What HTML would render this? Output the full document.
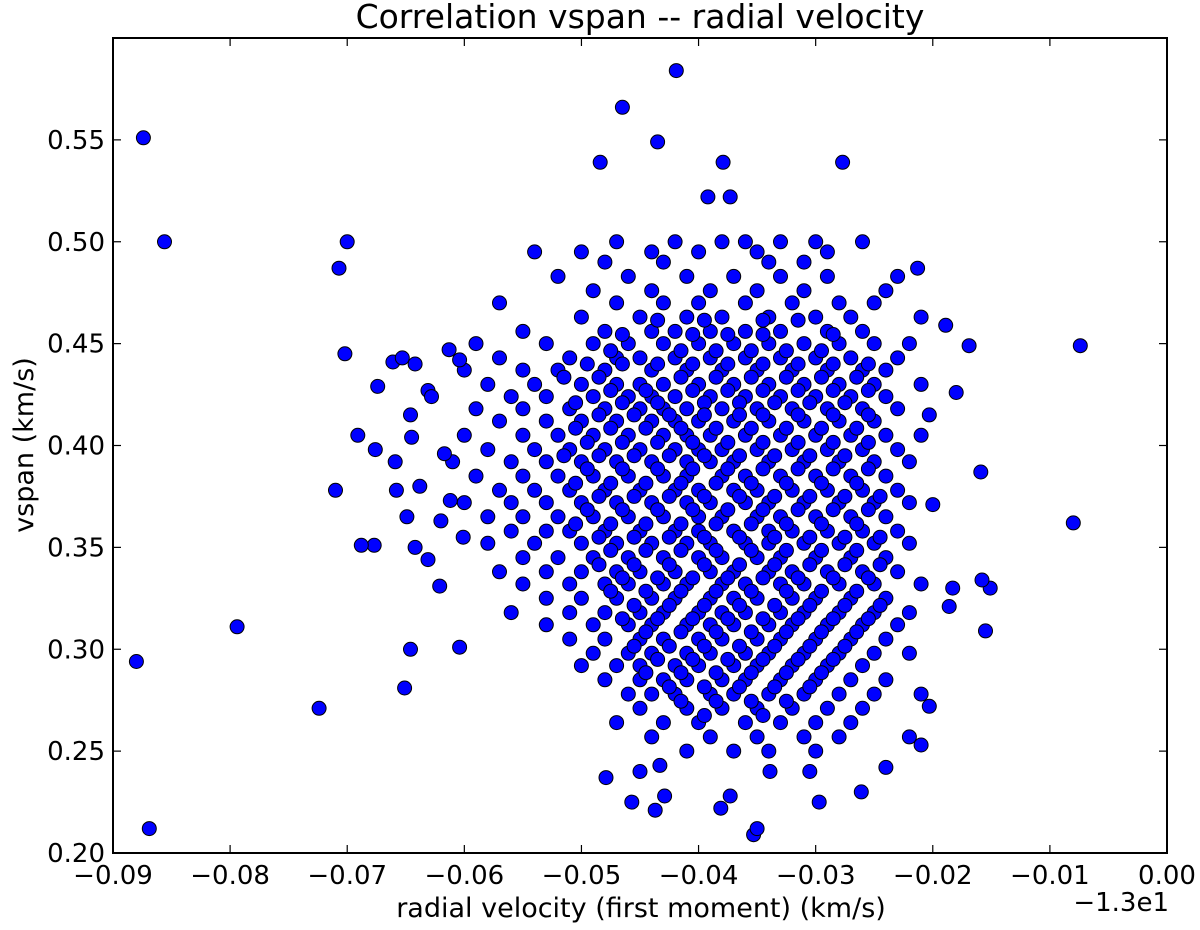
<!DOCTYPE html>
<html><head><meta charset="utf-8"><style>
html,body{margin:0;padding:0;background:#fff;}
svg{display:block;font-family:"DejaVu Sans","Liberation Sans",sans-serif;}
</style></head><body>
<svg id="chart" width="1200" height="930" viewBox="0 0 1200 930" xmlns="http://www.w3.org/2000/svg">
<text x="640" y="28" font-size="33" text-anchor="middle">Correlation vspan -- radial velocity</text>
<g id="points"></g>
<g id="axes"></g>
<text x="641" y="917" font-size="27" text-anchor="middle">radial velocity (first moment) (km/s)</text>
<text x="1169" y="911" font-size="26" text-anchor="end">−1.3e1</text>
<text x="0" y="0" font-size="27" text-anchor="middle" transform="translate(33,445) rotate(-90)">vspan (km/s)</text>
</svg>
<script>
const xTicks = [-0.09,-0.08,-0.07,-0.06,-0.05,-0.04,-0.03,-0.02,-0.01,0.00];
const xTickLabels = ["−0.09","−0.08","−0.07","−0.06","−0.05","−0.04","−0.03","−0.02","−0.01","0.00"];
const yTicks = [0.20,0.25,0.30,0.35,0.40,0.45,0.50,0.55];
const yTickLabels = ["0.20","0.25","0.30","0.35","0.40","0.45","0.50","0.55"];
const outlierX = [-0.0874,-0.0856,-0.0880,-0.0869,-0.0794,-0.0724,-0.0710,-0.0707,-0.0700,-0.0702,-0.0691,-0.0677,-0.0688,-0.0674,-0.0676,-0.0661,-0.0653,-0.0659,-0.0658,-0.0651,-0.0649,-0.0646,-0.0646,-0.0645,-0.0642,-0.0642,-0.0638,-0.0631,-0.0631,-0.0628,-0.0621,-0.0620,-0.0617,-0.0613,-0.0612,-0.0604,-0.0601,-0.0604,
-0.0074,-0.0080,-0.0155,-0.0151,-0.0158,-0.0159,-0.0169,-0.0189,-0.0180,-0.0183,-0.0186,-0.0200,-0.0203,-0.0203,-0.0210,-0.0213,
-0.0419,-0.0465,-0.0435,-0.0484,-0.0379,-0.0277,-0.0392,-0.0373,
-0.0353,-0.0350,-0.0381,-0.0437,-0.0479,-0.0457,-0.0373,-0.0339,-0.0297,-0.0261,-0.0240,-0.0305,-0.0450,-0.0433,-0.0429];
const outlierY = [0.551,0.500,0.294,0.212,0.311,0.271,0.378,0.487,0.500,0.445,0.405,0.351,0.351,0.429,0.398,0.441,0.443,0.392,0.378,0.281,0.365,0.300,0.415,0.404,0.440,0.350,0.380,0.427,0.344,0.424,0.331,0.363,0.396,0.447,0.373,0.301,0.355,0.442,
0.449,0.362,0.309,0.330,0.334,0.387,0.449,0.459,0.426,0.330,0.321,0.371,0.415,0.272,0.253,0.487,
0.584,0.566,0.549,0.539,0.539,0.539,0.522,0.522,
0.209,0.212,0.222,0.221,0.237,0.225,0.228,0.240,0.225,0.230,0.242,0.240,0.240,0.243,0.228];
const coreRowY = [0.50,0.495,0.49,0.483,0.476,0.47,0.463,0.456,0.45,0.443,0.437,0.43,0.424,0.418,0.412,0.405,0.398,0.392,0.385,0.378,0.372,0.365,0.358,0.352,0.345,0.338,0.332,0.325,0.318,0.312,0.305,0.298,0.292,0.285,0.278,0.271,0.264,0.257,0.25];
const coreRowX = [
[-0.047,-0.042,-0.038,-0.036,-0.033,-0.030,-0.026],
[-0.054,-0.050,-0.044,-0.040,-0.035,-0.029],
[-0.048,-0.043,-0.034,-0.031],
[-0.052,-0.046,-0.041,-0.037,-0.033,-0.029,-0.023],
[-0.049,-0.044,-0.039,-0.035,-0.031,-0.024],
[-0.057,-0.047,-0.043,-0.040,-0.036,-0.032,-0.028,-0.025],
[-0.050,-0.045,-0.041,-0.038,-0.034,-0.030,-0.027,-0.021],
[-0.055,-0.048,-0.044,-0.042,-0.039,-0.036,-0.033,-0.029,-0.026],
[-0.059,-0.053,-0.049,-0.046,-0.043,-0.040,-0.037,-0.034,-0.031,-0.028,-0.025,-0.022],
[-0.057,-0.051,-0.047,-0.045,-0.042,-0.039,-0.036,-0.033,-0.030,-0.027,-0.023],
[-0.060,-0.055,-0.052,-0.048,-0.044,-0.041,-0.038,-0.035,-0.032,-0.029,-0.026,-0.024],
[-0.058,-0.054,-0.050,-0.047,-0.045,-0.043,-0.040,-0.037,-0.034,-0.031,-0.028,-0.025,-0.021],
[-0.056,-0.053,-0.049,-0.046,-0.044,-0.042,-0.039,-0.036,-0.033,-0.030,-0.027,-0.024],
[-0.059,-0.055,-0.051,-0.048,-0.045,-0.043,-0.041,-0.038,-0.035,-0.032,-0.029,-0.026,-0.023],
[-0.057,-0.053,-0.050,-0.047,-0.044,-0.042,-0.040,-0.037,-0.034,-0.031,-0.028,-0.025],
[-0.060,-0.055,-0.052,-0.049,-0.046,-0.043,-0.041,-0.039,-0.036,-0.033,-0.030,-0.027,-0.024,-0.021],
[-0.058,-0.054,-0.051,-0.048,-0.045,-0.042,-0.040,-0.038,-0.035,-0.032,-0.029,-0.026,-0.023],
[-0.061,-0.056,-0.053,-0.050,-0.047,-0.044,-0.041,-0.039,-0.037,-0.034,-0.031,-0.028,-0.025,-0.022],
[-0.059,-0.055,-0.052,-0.049,-0.046,-0.043,-0.041,-0.038,-0.036,-0.033,-0.030,-0.027,-0.024],
[-0.057,-0.054,-0.051,-0.048,-0.045,-0.042,-0.040,-0.037,-0.035,-0.032,-0.029,-0.026,-0.023],
[-0.060,-0.056,-0.053,-0.050,-0.047,-0.044,-0.041,-0.039,-0.036,-0.034,-0.031,-0.028,-0.025,-0.022],
[-0.058,-0.055,-0.052,-0.049,-0.046,-0.043,-0.040,-0.038,-0.035,-0.033,-0.030,-0.027,-0.024],
[-0.056,-0.053,-0.051,-0.048,-0.045,-0.042,-0.040,-0.037,-0.034,-0.032,-0.029,-0.026,-0.023],
[-0.058,-0.054,-0.050,-0.047,-0.044,-0.041,-0.039,-0.036,-0.034,-0.031,-0.028,-0.025,-0.022],
[-0.055,-0.052,-0.049,-0.046,-0.043,-0.040,-0.038,-0.035,-0.033,-0.030,-0.027,-0.024],
[-0.057,-0.053,-0.050,-0.047,-0.045,-0.042,-0.039,-0.037,-0.034,-0.032,-0.029,-0.026,-0.023],
[-0.055,-0.051,-0.048,-0.046,-0.043,-0.041,-0.038,-0.036,-0.033,-0.031,-0.028,-0.025,-0.021],
[-0.053,-0.050,-0.047,-0.044,-0.042,-0.039,-0.037,-0.035,-0.032,-0.030,-0.027,-0.024],
[-0.056,-0.051,-0.048,-0.045,-0.043,-0.040,-0.038,-0.036,-0.033,-0.031,-0.028,-0.025,-0.022],
[-0.053,-0.049,-0.046,-0.044,-0.041,-0.039,-0.037,-0.034,-0.032,-0.029,-0.026,-0.023],
[-0.051,-0.048,-0.045,-0.043,-0.040,-0.038,-0.035,-0.033,-0.030,-0.027,-0.024],
[-0.049,-0.046,-0.044,-0.041,-0.039,-0.036,-0.034,-0.031,-0.028,-0.025,-0.022],
[-0.050,-0.047,-0.045,-0.042,-0.040,-0.037,-0.035,-0.032,-0.029,-0.026],
[-0.048,-0.045,-0.043,-0.041,-0.038,-0.036,-0.033,-0.030,-0.027,-0.024],
[-0.046,-0.044,-0.042,-0.039,-0.037,-0.034,-0.031,-0.028,-0.025,-0.021],
[-0.045,-0.041,-0.038,-0.035,-0.032,-0.029,-0.026],
[-0.047,-0.043,-0.040,-0.036,-0.033,-0.030,-0.027],
[-0.044,-0.039,-0.035,-0.031,-0.028,-0.022],
[-0.041,-0.037,-0.034,-0.030]
];
const denseRowY = [0.4615,0.4545,0.4465,0.44,0.4335,0.427,0.421,0.415,0.4085,0.4015,0.395,0.3885,0.3815,0.375,0.3685,0.3615,0.355,0.3485,0.3415,0.335,0.3285,0.3215,0.315,0.3085,0.3015,0.295,0.2885,0.2815,0.2745,0.2675];
const denseRowX = [
[-0.0435,-0.0395,-0.0345,-0.0315],
[-0.0465,-0.0405,-0.0375,-0.0345,-0.0285],
[-0.0475,-0.0415,-0.0385,-0.0355,-0.0325,-0.0295],
[-0.0495,-0.0465,-0.0435,-0.0405,-0.0375,-0.0345,-0.0315,-0.0285,-0.0255],
[-0.0515,-0.0485,-0.0415,-0.0385,-0.0355,-0.0325,-0.0295,-0.0265],
[-0.0475,-0.0445,-0.0405,-0.0375,-0.0345,-0.0315,-0.0285,-0.0255],
[-0.0505,-0.0465,-0.0435,-0.0395,-0.0365,-0.0335,-0.0305,-0.0275],
[-0.0485,-0.0455,-0.0425,-0.0395,-0.0365,-0.0345,-0.0315,-0.0285,-0.0255],
[-0.0505,-0.0475,-0.0445,-0.0415,-0.0385,-0.0355,-0.0325,-0.0295,-0.0265],
[-0.0495,-0.0465,-0.0435,-0.0405,-0.0375,-0.0345,-0.0315,-0.0285,-0.0255],
[-0.0515,-0.0485,-0.0455,-0.0425,-0.0395,-0.0365,-0.0335,-0.0305,-0.0275],
[-0.0495,-0.0465,-0.0435,-0.0405,-0.0375,-0.0345,-0.0315,-0.0285,-0.0255],
[-0.0505,-0.0475,-0.0445,-0.0415,-0.0385,-0.0355,-0.0325,-0.0295,-0.0265],
[-0.0485,-0.0455,-0.0425,-0.0395,-0.0365,-0.0335,-0.0305,-0.0275,-0.0245],
[-0.0495,-0.0465,-0.0435,-0.0405,-0.0375,-0.0345,-0.0315,-0.0285,-0.0255],
[-0.0505,-0.0475,-0.0445,-0.0415,-0.0385,-0.0355,-0.0325,-0.0295,-0.0265],
[-0.0485,-0.0455,-0.0425,-0.0395,-0.0365,-0.0335,-0.0305,-0.0275,-0.0245],
[-0.0475,-0.0445,-0.0415,-0.0385,-0.0355,-0.0325,-0.0295,-0.0265],
[-0.0485,-0.0455,-0.0425,-0.0395,-0.0365,-0.0335,-0.0305,-0.0275,-0.0245],
[-0.0465,-0.0435,-0.0405,-0.0375,-0.0345,-0.0315,-0.0285,-0.0255],
[-0.0475,-0.0445,-0.0415,-0.0385,-0.0355,-0.0325,-0.0295,-0.0265],
[-0.0455,-0.0425,-0.0395,-0.0365,-0.0335,-0.0305,-0.0275,-0.0245],
[-0.0465,-0.0435,-0.0405,-0.0375,-0.0345,-0.0315,-0.0285,-0.0255],
[-0.0445,-0.0415,-0.0385,-0.0355,-0.0325,-0.0295,-0.0265],
[-0.0455,-0.0425,-0.0395,-0.0365,-0.0335,-0.0305,-0.0275],
[-0.0435,-0.0405,-0.0375,-0.0345,-0.0315,-0.0285],
[-0.0445,-0.0415,-0.0385,-0.0355,-0.0325,-0.0295],
[-0.0425,-0.0395,-0.0365,-0.0335,-0.0305],
[-0.0415,-0.0385,-0.0355,-0.0325],
[-0.0395,-0.0345]
];

const NS = "http://www.w3.org/2000/svg";
const L = 113, R = 1167, T = 38, B = 853;
function xScale(v){ return L + (v - (-0.09)) / 0.09 * (R - L); }
function yScale(v){ return B - (v - 0.20) / 0.40 * (B - T); }

const pg = document.getElementById('points');
function addPoint(x, y){
  const c = document.createElementNS(NS, 'circle');
  
  
  c.setAttribute('cx', xScale(x).toFixed(1));
  c.setAttribute('cy', yScale(y).toFixed(1));
  c.setAttribute('r', 7);
  c.setAttribute('fill', '#0000ff');
  c.setAttribute('stroke', '#000');
  c.setAttribute('stroke-width', 1);
  pg.appendChild(c);
}
for (let r = 0; r < coreRowY.length; r++) {
  for (const x of coreRowX[r]) addPoint(x, coreRowY[r]);
}
for (let r = 0; r < denseRowY.length; r++) {
  for (const x of denseRowX[r]) addPoint(x, denseRowY[r]);
}
for (let i = 0; i < outlierX.length; i++) addPoint(outlierX[i], outlierY[i]);

const ag = document.getElementById('axes');
function mk(tag, attrs, name){
  const e = document.createElementNS(NS, tag);
  for (const k in attrs) e.setAttribute(k, attrs[k]);
  
  
  ag.appendChild(e);
  return e;
}
mk('rect', {x:L, y:T, width:R-L, height:B-T, fill:'none', stroke:'#000', 'stroke-width':2}, 'plot-frame');
xTicks.forEach((v, i) => {
  const x = xScale(v);
  mk('line', {x1:x, x2:x, y1:B, y2:B-8, stroke:'#000', 'stroke-width':1.2}, 'x-tick');
  mk('line', {x1:x, x2:x, y1:T, y2:T+8, stroke:'#000', 'stroke-width':1.2}, 'x-tick-top');
  const t = mk('text', {x:x, y:B+31, 'font-size':26, 'text-anchor':'middle'}, 'x-tick-label');
  t.textContent = xTickLabels[i];
});
yTicks.forEach((v, i) => {
  const y = yScale(v);
  mk('line', {x1:L, x2:L+8, y1:y, y2:y, stroke:'#000', 'stroke-width':1.2}, 'y-tick');
  mk('line', {x1:R, x2:R-8, y1:y, y2:y, stroke:'#000', 'stroke-width':1.2}, 'y-tick-right');
  const t = mk('text', {x:L-8, y:y+9, 'font-size':26, 'text-anchor':'end'}, 'y-tick-label');
  t.textContent = yTickLabels[i];
});
</script>
</body></html>
